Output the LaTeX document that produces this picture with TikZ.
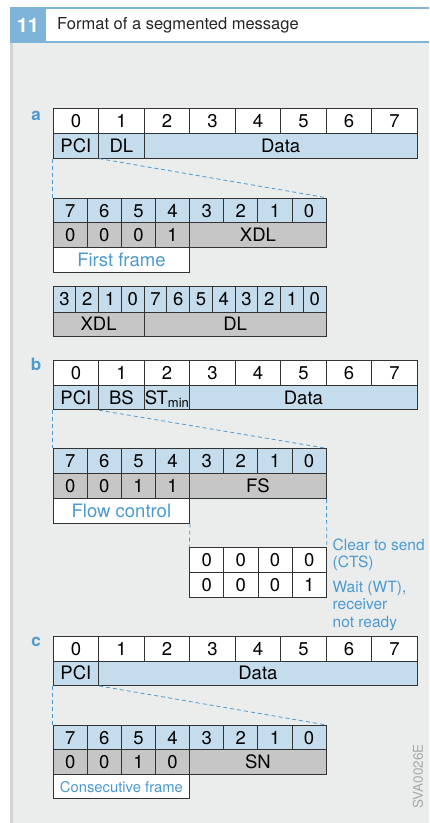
\documentclass[tikz,border=0pt]{standalone}
\usepackage{fontspec}
\setmainfont{TeX Gyre Heros}
\definecolor{hblue}{HTML}{7EB4D7}
\definecolor{lb}{HTML}{C4DCEB}
\definecolor{gc}{HTML}{C6C6C6}
\definecolor{bgc}{HTML}{EBEDEC}
\definecolor{stripe}{HTML}{D2D3D3}
\definecolor{tblue}{HTML}{4C9AD0}
\definecolor{linec}{HTML}{333333}
\definecolor{codec}{HTML}{A8A8A8}
\begin{document}
\begin{tikzpicture}[x=1pt,y=-1pt,
  cell/.style={draw=linec, line width=0.9pt, inner sep=0pt, anchor=north west,
    font=\fontsize{18.5}{18.5}\selectfont, text height=13.2pt, text depth=0pt},
  hcell/.style={cell, fill=white, minimum width=45.5pt, minimum height=24.4pt},
  fcell/.style={cell, fill=lb, minimum height=25pt},
  bcell/.style={cell, fill=lb, minimum width=34.125pt, minimum height=24.6pt},
  gcell/.style={cell, fill=gc, minimum height=25pt},
  lblcell/.style={cell, fill=white, text=tblue, minimum width=136.5pt, minimum height=24.4pt},
  scell/.style={cell, fill=lb, minimum width=22.75pt, minimum height=25.7pt},
  wcell/.style={cell, fill=white, minimum width=34.15pt, minimum height=24.6pt},
  link/.style={draw=tblue, line width=0.8pt, dash pattern=on 4pt off 3pt},
  partlbl/.style={text=tblue, font=\bfseries\fontsize{17}{17}\selectfont, anchor=base, inner sep=0pt},
  note/.style={text=tblue, font=\fontsize{15.5}{17.5}\selectfont, anchor=north west, align=left, inner sep=0pt}]
\useasboundingbox (0,0) rectangle (429,823);
\fill[white] (0,0) rectangle (429,823);
\fill[bgc] (10,43) rectangle (429,823);
\fill[stripe] (10,43) rectangle (12.5,823);
\fill[hblue] (10,7) rectangle (429,9.3);
\fill[hblue] (10,40.5) rectangle (429,43);
\fill[hblue] (10,7) rectangle (46,43);
\node[text=white, font=\bfseries\fontsize{20}{20}\selectfont, inner sep=0pt] (num) at (28,25) {11};
\node[anchor=west, font=\fontsize{16.5}{17}\selectfont, text=black!85, inner sep=0pt] (title) at (57,25) {Format of a segmented message};

% ---------- a ----------
\node[partlbl] (la) at (36,120) {a};
\foreach \i in {0,...,7}
  \node[hcell] (aH\i) at ({52.7+\i*45.5},108.3) {\i};
\node[fcell, minimum width=45.5pt] (aPCI) at (52.7,132.7) {PCI};
\node[fcell, minimum width=45.5pt] (aDL) at (98.2,132.7) {DL};
\node[fcell, minimum width=273pt] (aData) at (143.7,132.7) {Data};
\foreach \b [count=\k from 0] in {7,6,5,4,3,2,1,0}
  \node[bcell] (aB\k) at ({52.7+\k*34.125},197.7) {\b};
\foreach \v [count=\k from 0] in {0,0,0,1}
  \node[gcell, minimum width=34.125pt] (aV\k) at ({52.7+\k*34.125},222.3) {\v};
\node[gcell, minimum width=136.5pt] (aXDL) at (189.2,222.3) {XDL};
\node[lblcell] (aFF) at (52.7,247.3) {First frame};
\draw[link] (aPCI.south west) -- (aB0.north west);
\draw[link] (aPCI.south east) -- (aB7.north east);
\foreach \b [count=\k from 0] in {3,2,1,0,7,6,5,4,3,2,1,0}
  \node[scell] (aL\k) at ({52.7+\k*22.75},286) {\b};
\node[gcell, minimum width=91pt, minimum height=24.3pt] (aLX) at (52.7,311.7) {XDL};
\node[gcell, minimum width=182pt, minimum height=24.3pt] (aLD) at (143.7,311.7) {DL};

% ---------- b ----------
\node[partlbl] (lb) at (36,370) {b};
\foreach \i in {0,...,7}
  \node[hcell, minimum height=25pt] (bH\i) at ({52.7+\i*45.5},360) {\i};
\node[fcell, minimum width=45.5pt, minimum height=24.3pt] (bPCI) at (52.7,385) {PCI};
\node[fcell, minimum width=45.5pt, minimum height=24.3pt] (bBS) at (98.2,385) {BS};
\node[fcell, minimum width=45.5pt, minimum height=24.3pt] (bST) at (143.7,385) {ST\raisebox{-0.3ex}{\fontsize{13}{13}\selectfont min}};
\node[fcell, minimum width=227.5pt, minimum height=24.3pt] (bData) at (189.2,385) {Data};
\foreach \b [count=\k from 0] in {7,6,5,4,3,2,1,0}
  \node[bcell, minimum height=25pt] (bB\k) at ({52.7+\k*34.125},448.3) {\b};
\foreach \v [count=\k from 0] in {0,0,1,1}
  \node[gcell, minimum width=34.125pt] (bV\k) at ({52.7+\k*34.125},473.3) {\v};
\node[gcell, minimum width=136.5pt] (bFS) at (189.2,473.3) {FS};
\node[lblcell] (bFC) at (52.7,498.3) {Flow control};
\draw[link] (bPCI.south west) -- (bB0.north west);
\draw[link] (bPCI.south east) -- (bB7.north east);
\foreach \v [count=\k from 0] in {0,0,0,0}
  \node[wcell] (bS\k) at ({189.2+\k*34.15},547.3) {\v};
\foreach \v [count=\k from 0] in {0,0,0,1}
  \node[wcell, minimum height=25pt] (bW\k) at ({189.2+\k*34.15},571.7) {\v};
\draw[link] (bFC.south east) -- (bS0.north west);
\draw[link] (bFS.south east) -- (bS3.north east);
\node[note] (cts) at (332.5,538.5) {Clear to send\\(CTS)};
\node[note] (wt) at (332.5,580.5) {Wait (WT),\\receiver\\not ready};

% ---------- c ----------
\node[partlbl] (lc) at (36,646.7) {c};
\foreach \i in {0,...,7}
  \node[hcell, minimum height=25pt] (cH\i) at ({52.7+\i*45.5},635.7) {\i};
\node[fcell, minimum width=45.5pt, minimum height=24.3pt] (cPCI) at (52.7,660.7) {PCI};
\node[fcell, minimum width=318.5pt, minimum height=24.3pt] (cData) at (98.2,660.7) {Data};
\foreach \b [count=\k from 0] in {7,6,5,4,3,2,1,0}
  \node[bcell, minimum height=24pt] (cB\k) at ({52.7+\k*34.125},725) {\b};
\foreach \v [count=\k from 0] in {0,0,1,0}
  \node[gcell, minimum width=34.125pt] (cV\k) at ({52.7+\k*34.125},749) {\v};
\node[gcell, minimum width=136.5pt] (cSN) at (189.2,749) {SN};
\node[lblcell, font=\fontsize{14.8}{15}\selectfont, text height=10.7pt] (cCF) at (52.7,774) {Consecutive frame};
\draw[link] (cPCI.south west) -- (cB0.north west);
\draw[link] (cPCI.south east) -- (cB7.north east);

\node[rotate=90, text=codec, font=\fontsize{13.5}{14}\selectfont, inner sep=0pt] (code) at (418,776.5) {SVA0026E};
\end{tikzpicture}
\end{document}
